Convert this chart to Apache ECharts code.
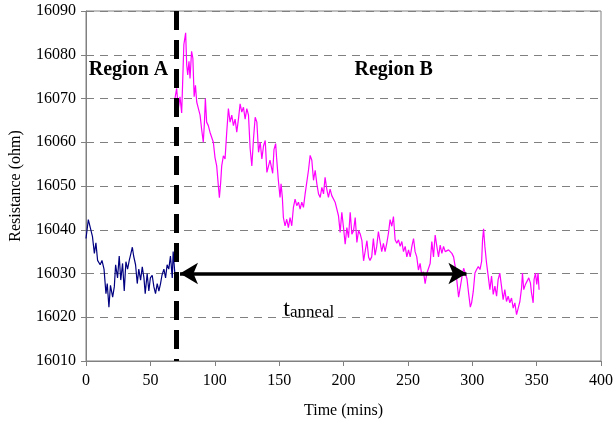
<!DOCTYPE html>
<html>
<head>
<meta charset="utf-8">
<script src="https://cdn.jsdelivr.net/npm/echarts@6/dist/echarts.min.js"></script>
<style>
html,body{margin:0;padding:0;background:#fff;}
#chart{width:616px;height:427px;}
</style>
</head>
<body>
<div id="chart"></div>
<script>
// ---- data ----
var xTicks = [0, 50, 100, 150, 200, 250, 300, 350, 400];
var yTicks = [16010, 16020, 16030, 16040, 16050, 16060, 16070, 16080, 16090];

var regionATime = [0,1.8,3,5,6.5,7.7,9,11,12.4,14,15.5,16.5,17.8,19,20.7,22,23,24.5,25.8,27,28.4,29.7,31,32.3,33.6,34.9,36,37,38.5,39.8,41,42.4,43.7,45,46,47.5,48.8,50,51.4,52.7,54,55.3,56.6,57.9,59,60.5,61.8,63,64.3,65.6,67,67.7,69,70];
var regionAValue = [16038,16042.3,16042,16038.5,16034.6,16037,16033,16032,16033,16031,16025.4,16027.7,16022.3,16027.3,16024.6,16027,16032,16029,16034,16028.5,16032.3,16026,16032.7,16031,16033,16034.6,16036,16034,16032,16027.7,16031,16028.5,16031.5,16029,16025.4,16030,16026,16029,16029.6,16027,16025.4,16027.7,16026,16027.7,16029.6,16031,16029,16032,16031,16034,16029,16035,16030,16029];

var regionBTime = [69.1,70.4,71.7,73,74.3,75,76,77.4,78.2,79,80,80.8,82,83,84,85,86,87.3,88.6,89.8,91.1,92,92.7,93.7,95,96.3,97.6,98.9,100.2,101.5,102.8,103.6,104.6,105.4,106.7,108,109.3,110.6,111.9,113.2,114.5,115.8,117.1,118.4,119.7,121,122.3,123.6,124.9,126.2,127.5,128.8,130.1,131.4,132.7,134,135.3,136.6,137.9,139.2,140.5,141.8,
  142.9,145,146,147.3,148,149.4,150.7,151.5,152.5,153.3,154.6,155.9,157.2,158.5,159.8,161.1,162.4,163.7,165,166.3,167.6,168.9,170.2,171.5,172.8,174.1,175.4,176.7,178,179.3,180.6,181.9,183.2,184.5,185.7,187,188.3,189.6,190.9,192.2,193.5,194.8,196.1,197.4,198.7,200,201.3,202.6,203.9,205.2,206.5,207.8,209.1,210.4,211.7,213,214.3,215.6,216.9,218.2,219.5,
  220.6,221.9,223.2,224.5,225.8,227.1,228.4,229.7,231,232.3,233.6,234.9,236.2,237.5,238.8,240.1,241.4,242.7,244,245.3,246.6,247.9,249.2,250.5,251.8,253.1,254.4,255.6,256.9,258.2,259.5,260.8,262.1,263.4,264.7,266,267.3,268.6,269.9,271.2,272.5,273.8,275.1,276.4,277.7,279,280.3,281.6,282.9,284.2,285.5,286.8,288,289.4,290.7,292,293.3,294.6,295.9,297.2,298.5,
  299.5,300.8,302.1,303.4,304.7,306,307.3,308,308.8,309.8,311.1,312.4,313.7,315,316.3,317.6,318.9,320.1,321.4,322.7,324,325.3,326.6,327.9,329.2,330.5,331.8,333.1,334.4,335.7,337,338.3,339,340,341.3,342.6,343.9,345.2,346,347.3,348,349.1,350.1,351.1,351.9];
var regionBValue = [16070,16072.3,16067.7,16070.4,16066.7,16073,16082.3,16085,16077.7,16075.4,16078.5,16074.6,16080.8,16079.2,16070.4,16073,16069.2,16067.7,16066.2,16063,16060,16064.6,16070,16064.6,16063.8,16062.3,16062.3,16060,16056.5,16054.6,16050,16047.3,16050.8,16054.6,16056.9,16056.2,16062.3,16067.7,16064.6,16066.2,16063.8,16065.3,16062.3,16065.3,16068.8,16066.9,16068,16065.3,16067.7,16066.2,16058.5,16054.6,16060.8,16065.7,16064.6,16057.7,16060,16056.2,16059.2,16060.4,16053.1,16054.6,
  16055.9,16052.9,16058.3,16059.7,16056.6,16051.3,16047.4,16050.5,16047.4,16042.8,16040.9,16042.4,16040.5,16042.8,16040.9,16045.1,16047,16045.5,16046.3,16044.7,16046.3,16045.1,16048.2,16047.8,16053.6,16057,16055.9,16051.3,16053.6,16050.5,16048.2,16047.4,16049.7,16048.2,16052,16049.3,16047.4,16049.3,16047.8,16048.2,16046.3,16045.9,16043.2,16039.4,16044,16040.5,16036.7,16040.5,16038.2,16044,16039,16039.8,16042.8,16037.1,16039.8,16039,16037.5,16032.9,16035.2,16037.5,16033.7,
  16033,16033.8,16038,16034.2,16036.2,16039.6,16040,16035,16036.9,16035,16036.9,16039.2,16042.3,16040.8,16043,16037.7,16036.9,16037.7,16036.2,16037.3,16035,16036.2,16033.8,16035.4,16033.8,16036.2,16038,16035,16033.8,16030.8,16032.3,16029.6,16030.4,16027.7,16030,16029.6,16032.3,16037.3,16033.8,16038.8,16036.2,16033.8,16036.5,16034.6,16036.2,16035,16035.4,16035.4,16035,16034.6,16033.8,16031.5,16028.5,16024.6,16026.9,16029.2,16031.2,16031.5,16028.8,16025.4,16022.3,
  16023.3,16025.9,16030.1,16030.9,16031.6,16030.9,16032.8,16037.7,16040.2,16036.2,16032.4,16029.4,16026.3,16029.4,16025.2,16027.1,16024.8,16028.6,16030.1,16027.1,16024,16026.3,16023.6,16024.8,16023.3,16024.4,16022.1,16023.3,16020.6,16022.1,16023.6,16026.7,16030.1,16026.3,16027.5,16027.1,16029,16027.8,16025.6,16023.3,16028.6,16030.1,16027.5,16030.1,16026.3];

var boundaryTime = 70;            // vertical dashed line
var annealStart = 73, annealEnd = 295.5, annealLevel = 16030;
var labelRegionA = [33, 16076.5];
var labelRegionB = [239, 16076.5];
var labelAnneal = [173, 16021.8];

function pairs(xs, ys){ return xs.map(function(x,i){ return [x, ys[i]]; }); }

var FONT = 'Liberation Serif';
var chart = echarts.init(document.getElementById('chart'), null, {renderer:'canvas'});
chart.setOption({
  animation: false,
  backgroundColor: '#ffffff',
  grid: {left: 86, right: 15, top: 11, bottom: 66, show: true, borderColor: '#808080', borderWidth: 1},
  xAxis: {
    type: 'value', min: xTicks[0], max: xTicks[xTicks.length-1], interval: 50,
    name: 'Time (mins)', nameLocation: 'middle', nameGap: 42,
    nameTextStyle: {fontFamily: FONT, fontSize: 16, color: '#000'},
    axisLine: {show: true, lineStyle: {color: '#808080', width: 1}},
    axisTick: {show: true, inside: false, length: 5, lineStyle: {color: '#808080'}},
    axisLabel: {fontFamily: FONT, fontSize: 16, color: '#000', margin: 12, formatter: function(v){ return String(v); }},
    splitLine: {show: false}
  },
  yAxis: {
    type: 'value', min: yTicks[0], max: yTicks[yTicks.length-1], interval: 10,
    name: 'Resistance (ohm)', nameLocation: 'middle', nameGap: 62,
    nameTextStyle: {fontFamily: FONT, fontSize: 16, color: '#000'},
    axisLine: {show: true, lineStyle: {color: '#808080', width: 1}},
    axisTick: {show: true, inside: false, length: 5, lineStyle: {color: '#808080'}},
    axisLabel: {fontFamily: FONT, fontSize: 16, color: '#000', margin: 10, formatter: function(v){ return String(v); }},
    splitLine: {show: true, lineStyle: {color: '#808080', width: 1, type: [8, 6]}}
  },
  series: [
    {
      name: 'Region A', type: 'line', data: pairs(regionATime, regionAValue),
      showSymbol: false, symbol: 'none',
      lineStyle: {color: '#000080', width: 1.2}, z: 3
    },
    {
      name: 'Region B', type: 'line', data: pairs(regionBTime, regionBValue),
      showSymbol: false, symbol: 'none',
      lineStyle: {color: '#FF00FF', width: 1.2}, z: 3
    },
    {
      name: 'annotations', type: 'line', data: [], z: 5,
      markLine: {
        silent: true, animation: false,
        label: {show: false},
        data: [
          [{coord: [boundaryTime, yTicks[yTicks.length-1]], symbol: 'none', lineStyle: {color: '#000', width: 5, type: [19, 10]}},
           {coord: [boundaryTime, yTicks[0]], symbol: 'none'}],
          [{coord: [annealStart, annealLevel], symbol: 'arrow', symbolSize: [16, 18], lineStyle: {color: '#000', width: 3.5, type: 'solid'}},
           {coord: [annealEnd, annealLevel], symbol: 'arrow', symbolSize: [16, 18]}]
        ],
        lineStyle: {color: '#000', width: 3.5, type: 'solid'}
      },
      markPoint: {
        silent: true, animation: false,
        symbol: 'circle', symbolSize: 0,
        itemStyle: {color: 'rgba(0,0,0,0)'},
        data: [
          {coord: labelRegionA, label: {show: true, position: 'inside', formatter: 'Region A', fontFamily: FONT, fontWeight: 'bold', fontSize: 20, color: '#000'}},
          {coord: labelRegionB, label: {show: true, position: 'inside', formatter: 'Region B', fontFamily: FONT, fontWeight: 'bold', fontSize: 20, color: '#000'}},
          {coord: labelAnneal, label: {show: true, position: 'inside', formatter: '{t|t}{s|anneal}', color: '#000',
            rich: {
              t: {fontFamily: FONT, fontSize: 24, lineHeight: 24, verticalAlign: 'bottom', color: '#000'},
              s: {fontFamily: FONT, fontSize: 17, lineHeight: 17, verticalAlign: 'bottom', color: '#000'}
            }}}
        ]
      }
    }
  ]
});
</script>
</body>
</html>
